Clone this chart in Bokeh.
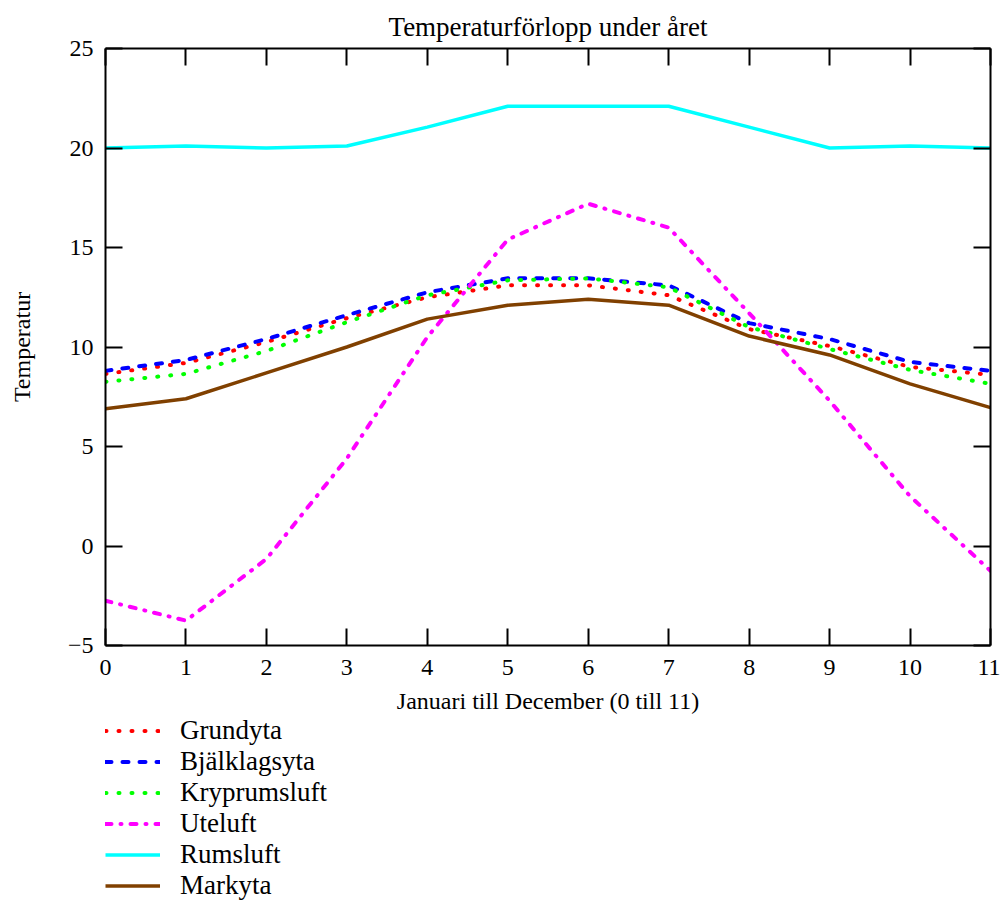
from bokeh.plotting import figure
from bokeh.layouts import column
from bokeh.models import LinearAxis, FixedTicker, Legend, LegendItem, Range1d
from bokeh.embed import file_html
from bokeh.resources import INLINE

months = [0, 1, 2, 3, 4, 5, 6, 7, 8, 9, 10, 11]
grundyta = [8.65, 9.2, 10.25, 11.45, 12.5, 13.1, 13.1, 12.6, 10.9, 10.05, 9.0, 8.6]
bjalklagsyta = [8.8, 9.35, 10.4, 11.6, 12.75, 13.45, 13.45, 13.1, 11.2, 10.4, 9.25, 8.8]
kryprumsluft = [8.25, 8.65, 9.8, 11.25, 12.6, 13.35, 13.45, 13.0, 11.0, 9.9, 8.85, 8.15]
uteluft = [-2.75, -3.75, -0.65, 4.4, 10.5, 15.4, 17.2, 16.0, 11.7, 7.3, 2.5, -1.25]
rumsluft = [20.0, 20.1, 20.0, 20.1, 21.05, 22.1, 22.1, 22.1, 21.05, 20.0, 20.1, 20.0]
markyta = [6.9, 7.4, 8.7, 10.0, 11.4, 12.1, 12.4, 12.1, 10.55, 9.6, 8.15, 6.95]

x_ticks = list(range(0, 12))
y_ticks = [-5, 0, 5, 10, 15, 20, 25]

title_text = "Temperaturförlopp under året"
x_label = "Januari till December (0 till 11)"
y_label = "Temperatur"

FONT = "Liberation Serif"

p = figure(
    frame_width=885, frame_height=597,
    x_range=Range1d(0, 11), y_range=Range1d(-5, 25),
    output_backend="svg", toolbar_location=None,
    x_axis_location=None, y_axis_location=None,
    min_border_left=105, min_border_right=10, min_border_top=48, min_border_bottom=80,
    title=title_text,
)
p.outline_line_color = None
p.xgrid.visible = False
p.ygrid.visible = False
p.background_fill_color = "white"
p.border_fill_color = "white"

p.title.text_font = FONT
p.title.text_font_style = "normal"
p.title.text_font_size = "27px"
p.title.text_color = "black"
p.title.align = "center"
p.title.standoff = 14


def style_axis(ax, show_labels, ticks):
    ax.axis_line_width = 2
    ax.axis_line_color = "black"
    ax.major_tick_in = 17
    ax.major_tick_out = 0
    ax.major_tick_line_width = 2
    ax.major_tick_line_color = "black"
    ax.minor_tick_line_color = None
    ax.major_label_text_font = FONT
    ax.major_label_text_color = "black"
    ax.axis_label_text_font = FONT
    ax.axis_label_text_color = "black"
    ax.axis_label_text_font_style = "normal"
    ax.axis_label_text_font_size = "24px"
    ax.major_label_text_font_size = "24px"
    if not show_labels:
        ax.major_label_standoff = 0
        ax.major_label_overrides = {t: "" for t in ticks}


xb = LinearAxis(ticker=FixedTicker(ticks=x_ticks), axis_label=x_label)
style_axis(xb, True, x_ticks)
xb.major_label_standoff = 14
xb.axis_label_standoff = 10
p.add_layout(xb, "below")

yl = LinearAxis(ticker=FixedTicker(ticks=y_ticks), axis_label=y_label,
                major_label_overrides={-5: "\u22125"})
style_axis(yl, True, y_ticks)
yl.major_label_standoff = 12
yl.axis_label_standoff = 30
p.add_layout(yl, "left")

xt = LinearAxis(ticker=FixedTicker(ticks=x_ticks))
style_axis(xt, False, x_ticks)
p.add_layout(xt, "above")

yr = LinearAxis(ticker=FixedTicker(ticks=y_ticks))
style_axis(yr, False, y_ticks)
p.add_layout(yr, "right")

series = [
    ("Grundyta", grundyta, "#ff0000", "1 12"),
    ("Bjälklagsyta", bjalklagsyta, "#0000ff", "6 11"),
    ("Kryprumsluft", kryprumsluft, "#00ff00", "1 12"),
    ("Uteluft", uteluft, "#ff00ff", "6 9 1 9"),
    ("Rumsluft", rumsluft, "#00ffff", "solid"),
    ("Markyta", markyta, "#804000", "solid"),
]

# legend panel: a second figure below the chart (same series, drawn off-view)
p2 = figure(
    width=1000, height=186,
    x_range=Range1d(-30, -20), y_range=Range1d(-5, 25),
    output_backend="svg", toolbar_location=None,
    x_axis_location=None, y_axis_location=None,
    min_border=0, min_border_left=0, min_border_right=0,
    min_border_top=0, min_border_bottom=0,
)
p2.outline_line_color = None
p2.xgrid.visible = False
p2.ygrid.visible = False
p2.background_fill_alpha = 0
p2.border_fill_alpha = 0
p2.margin = (-10, 0, 0, 0)

items = []
for name, ys, color, dash in series:
    kw = dict(line_color=color, line_width=4 if dash != "solid" else 3.5,
              line_dash=dash, line_cap="round" if dash != "solid" else "butt",
              line_join="round")
    p.line(months, ys, **kw)
    r2 = p2.line(months, ys, **kw)
    items.append(LegendItem(label=name, renderers=[r2]))

legend = Legend(
    items=items, location=(0, 0), orientation="vertical",
    glyph_width=55, glyph_height=31, label_height=31, label_standoff=20,
    spacing=0, padding=0, margin=0,
    label_text_font=FONT, label_text_font_size="27px", label_text_color="black",
    border_line_color=None, background_fill_alpha=0,
)
p2.add_layout(legend, "center")

layout = column(p, p2, spacing=0)
open("out.html", "w").write(file_html(layout, INLINE))
